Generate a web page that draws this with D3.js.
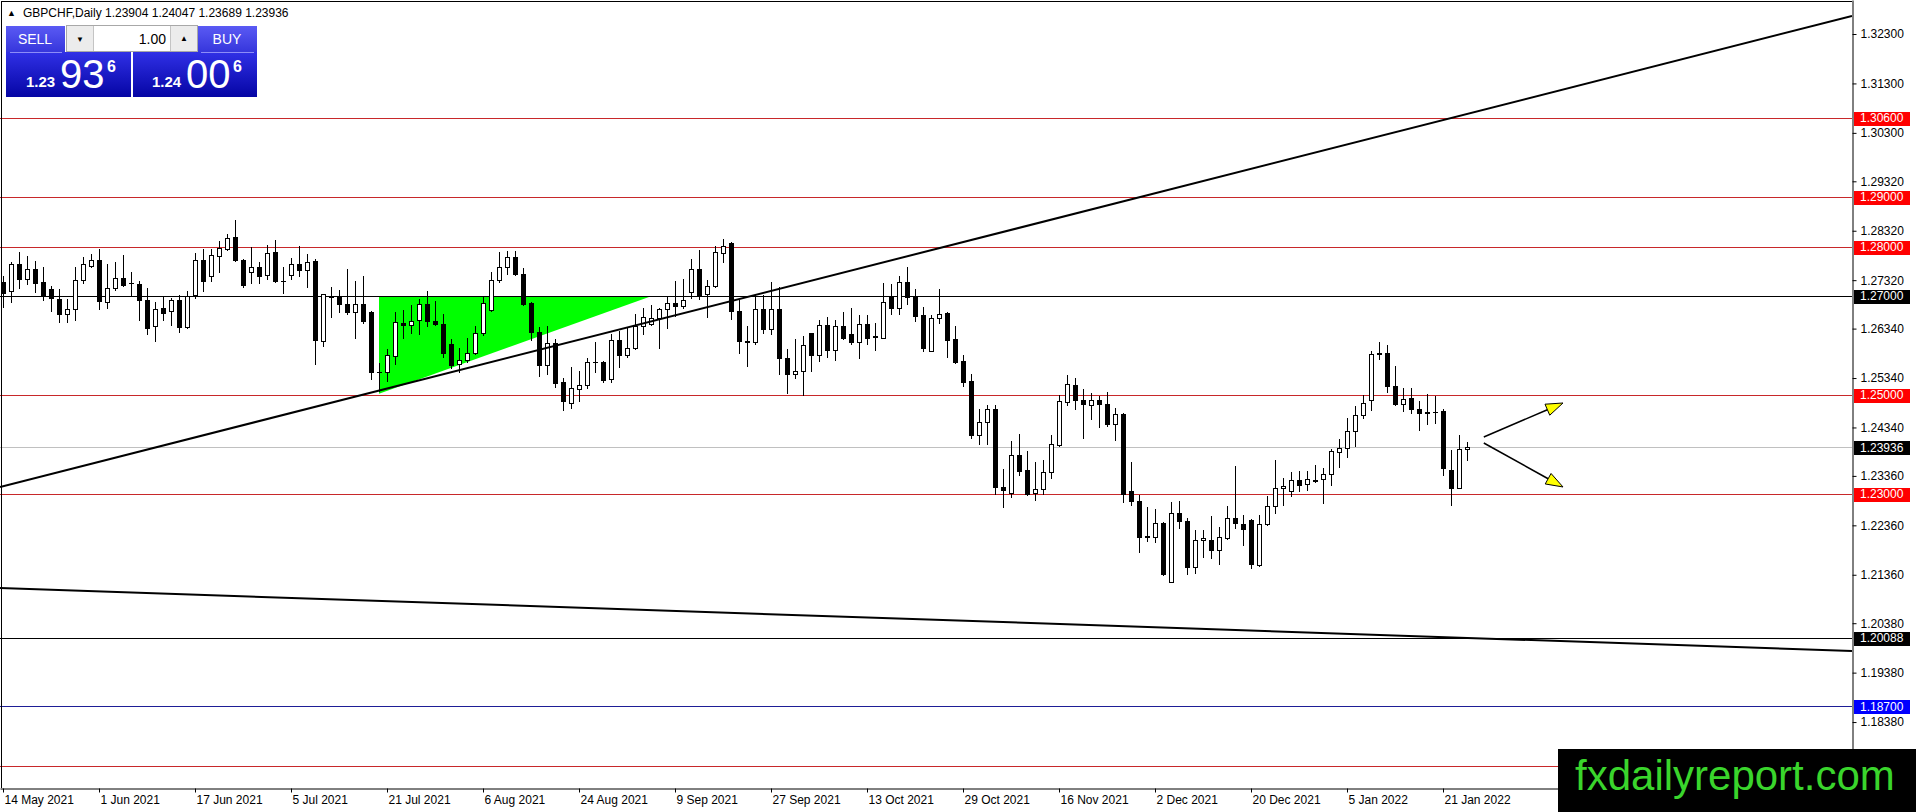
<!DOCTYPE html>
<html>
<head>
<meta charset="utf-8">
<script src="https://cdnjs.cloudflare.com/ajax/libs/d3/7.8.5/d3.min.js"></script>
<style>
  html, body { margin: 0; padding: 0; background: #fff; overflow: hidden; }
  svg { display: block; font-family: "Liberation Sans", Arial, sans-serif; }
</style>
</head>
<body>
<div id="chart"></div>
<script>
// GBPCHF daily candles with MT4-style levels, trendlines and trade panel
const symbolTitle = "GBPCHF,Daily";
const lastBar = [1.23904, 1.24047, 1.23689, 1.23936];
const bidPrice = 1.23936;
const sellQuote = ["1.23", "93", "6"];
const buyQuote = ["1.24", "00", "6"];
const lotSize = "1.00";
const siteName = "fxdailyreport.com";

// one bar per trading day, 14 May 2021 .. 26 Jan 2022
const opens = [
  1.2728, 1.2711, 1.2764, 1.2734, 1.2755, 1.2728, 1.2714, 1.2694, 1.2663, 1.2674,
  1.2732, 1.2761, 1.2772, 1.2688, 1.2716, 1.2737, 1.2727, 1.2724, 1.2692, 1.2639,
  1.2676, 1.2670, 1.2692, 1.2638, 1.2701, 1.2773, 1.2741, 1.2781, 1.2795, 1.2820,
  1.2773, 1.2748, 1.2759, 1.2743, 1.2789, 1.2731, 1.2743, 1.2765, 1.2753, 1.2770,
  1.2609, 1.2699, 1.2699, 1.2684, 1.2667, 1.2684, 1.2668, 1.2547, 1.2547, 1.2579,
  1.2645, 1.2641, 1.2651, 1.2684, 1.2650, 1.2643, 1.2603, 1.2562, 1.2570, 1.2584,
  1.2626, 1.2672, 1.2732, 1.2759, 1.2778, 1.2745, 1.2686, 1.2628, 1.2560, 1.2605,
  1.2526, 1.2483, 1.2512, 1.2520, 1.2567, 1.2567, 1.2533, 1.2610, 1.2581, 1.2594,
  1.2640, 1.2644, 1.2655, 1.2674, 1.2686, 1.2680, 1.2709, 1.2754, 1.2703, 1.2720,
  1.2786, 1.2808, 1.2670, 1.2608, 1.2606, 1.2674, 1.2633, 1.2674, 1.2575, 1.2542,
  1.2548, 1.2625, 1.2581, 1.2641, 1.2590, 1.2640, 1.2623, 1.2606, 1.2643, 1.2619,
  1.2616, 1.2699, 1.2676, 1.2729, 1.2699, 1.2662, 1.2589, 1.2655, 1.2666, 1.2612,
  1.2569, 1.2527, 1.2419, 1.2445, 1.2472, 1.2314, 1.2301, 1.2379, 1.2347, 1.2301,
  1.2310, 1.2344, 1.2399, 1.2486, 1.2520, 1.2490, 1.2480, 1.2490, 1.2482, 1.2442,
  1.2461, 1.2305, 1.2286, 1.2213, 1.2212, 1.2241, 1.2122, 1.2261, 1.2244, 1.2151,
  1.2207, 1.2207, 1.2187, 1.2211, 1.2251, 1.2239, 1.2246, 1.2155, 1.2238, 1.2275,
  1.2311, 1.2305, 1.2327, 1.2319, 1.2327, 1.2329, 1.2339, 1.2385, 1.2392, 1.2427,
  1.2460, 1.2489, 1.2585, 1.2585, 1.2518, 1.2481, 1.2493, 1.2471, 1.2465, 1.2466,
  1.2468, 1.2347, 1.2312, 1.23904
];
const highs = [
  1.2741, 1.2768, 1.2789, 1.2780, 1.2770, 1.2759, 1.2721, 1.2714, 1.2694, 1.2759,
  1.2778, 1.2784, 1.2795, 1.2764, 1.2768, 1.2782, 1.2749, 1.2730, 1.2716, 1.2687,
  1.2699, 1.2696, 1.2701, 1.2711, 1.2787, 1.2795, 1.2795, 1.2812, 1.2826, 1.2854,
  1.2775, 1.2799, 1.2768, 1.2804, 1.2814, 1.2759, 1.2776, 1.2802, 1.2785, 1.2775,
  1.2704, 1.2719, 1.2712, 1.2755, 1.2730, 1.2741, 1.2669, 1.2565, 1.2593, 1.2667,
  1.2672, 1.2682, 1.2694, 1.2711, 1.2689, 1.2663, 1.2613, 1.2595, 1.2616, 1.2640,
  1.2699, 1.2748, 1.2788, 1.2791, 1.2791, 1.2756, 1.2687, 1.2637, 1.2640, 1.2613,
  1.2535, 1.2556, 1.2549, 1.2574, 1.2606, 1.2569, 1.2623, 1.2630, 1.2637, 1.2664,
  1.2676, 1.2681, 1.2676, 1.2700, 1.2730, 1.2734, 1.2775, 1.2793, 1.2732, 1.2802,
  1.2815, 1.2810, 1.2691, 1.2639, 1.2702, 1.2702, 1.2729, 1.2718, 1.2593, 1.2612,
  1.2620, 1.2626, 1.2652, 1.2658, 1.2652, 1.2667, 1.2675, 1.2662, 1.2662, 1.2645,
  1.2726, 1.2724, 1.2740, 1.2759, 1.2714, 1.2677, 1.2662, 1.2714, 1.2668, 1.2639,
  1.2581, 1.2542, 1.2472, 1.2480, 1.2480, 1.2349, 1.2406, 1.2421, 1.2386, 1.2365,
  1.2369, 1.2418, 1.2499, 1.2540, 1.2535, 1.2512, 1.2504, 1.2497, 1.2505, 1.2474,
  1.2463, 1.2365, 1.2297, 1.2274, 1.2270, 1.2243, 1.2283, 1.2286, 1.2251, 1.2227,
  1.2227, 1.2254, 1.2232, 1.2275, 1.2356, 1.2257, 1.2248, 1.2257, 1.2295, 1.2368,
  1.2332, 1.2343, 1.2346, 1.2345, 1.2359, 1.2353, 1.2390, 1.2410, 1.2453, 1.2478,
  1.2500, 1.2589, 1.2606, 1.2600, 1.2559, 1.2514, 1.2514, 1.2487, 1.2501, 1.2498,
  1.2471, 1.2388, 1.2419, 1.24047
];
const lows = [
  1.2677, 1.2687, 1.2716, 1.2724, 1.2709, 1.2692, 1.2669, 1.2647, 1.2647, 1.2651,
  1.2726, 1.2759, 1.2673, 1.2676, 1.2712, 1.2721, 1.2701, 1.2651, 1.2624, 1.2608,
  1.2651, 1.2642, 1.2628, 1.2636, 1.2696, 1.2711, 1.2730, 1.2748, 1.2794, 1.2770,
  1.2719, 1.2726, 1.2726, 1.2734, 1.2728, 1.2707, 1.2734, 1.2741, 1.2719, 1.2563,
  1.2599, 1.2658, 1.2667, 1.2663, 1.2616, 1.2645, 1.2532, 1.2508, 1.2528, 1.2562,
  1.2614, 1.2626, 1.2624, 1.2640, 1.2642, 1.2577, 1.2555, 1.2547, 1.2567, 1.2582,
  1.2622, 1.2670, 1.2728, 1.2745, 1.2742, 1.2682, 1.2610, 1.2539, 1.2542, 1.2515,
  1.2469, 1.2474, 1.2488, 1.2513, 1.2547, 1.2526, 1.2526, 1.2556, 1.2576, 1.2593,
  1.2623, 1.2642, 1.2594, 1.2635, 1.2659, 1.2676, 1.2695, 1.2693, 1.2657, 1.2718,
  1.2768, 1.2654, 1.2585, 1.2558, 1.2602, 1.2625, 1.2623, 1.2542, 1.2504, 1.2534,
  1.2500, 1.2549, 1.2569, 1.2576, 1.2570, 1.2613, 1.2602, 1.2575, 1.2602, 1.2590,
  1.2614, 1.2663, 1.2663, 1.2683, 1.2650, 1.2588, 1.2588, 1.2645, 1.2576, 1.2565,
  1.2518, 1.2412, 1.2401, 1.2401, 1.2299, 1.2274, 1.2293, 1.2338, 1.2298, 1.2288,
  1.2300, 1.2332, 1.2396, 1.2480, 1.2472, 1.2412, 1.2451, 1.2434, 1.2436, 1.2409,
  1.2284, 1.2278, 1.2182, 1.2205, 1.2202, 1.2135, 1.2121, 1.2230, 1.2137, 1.2139,
  1.2171, 1.2170, 1.2158, 1.2209, 1.2230, 1.2196, 1.2149, 1.2154, 1.2236, 1.2261,
  1.2278, 1.2295, 1.2305, 1.2307, 1.2324, 1.2282, 1.2318, 1.2354, 1.2374, 1.2397,
  1.2453, 1.2470, 1.2572, 1.2505, 1.2480, 1.2468, 1.2464, 1.2428, 1.2442, 1.2444,
  1.2338, 1.2277, 1.2311, 1.23689
];
const closes = [
  1.2707, 1.2764, 1.2734, 1.2755, 1.2726, 1.2701, 1.2696, 1.2663, 1.2674, 1.2732,
  1.2764, 1.2772, 1.2689, 1.2716, 1.2737, 1.2722, 1.2727, 1.2692, 1.2636, 1.2674,
  1.2666, 1.2691, 1.2638, 1.2699, 1.2772, 1.2730, 1.2782, 1.2797, 1.2818, 1.2773,
  1.2722, 1.2759, 1.2741, 1.2787, 1.2730, 1.2730, 1.2765, 1.2753, 1.2768, 1.2611,
  1.2704, 1.2698, 1.2684, 1.2667, 1.2684, 1.2650, 1.2547, 1.2546, 1.2580, 1.2647,
  1.2641, 1.2649, 1.2684, 1.2649, 1.2643, 1.2584, 1.2561, 1.2570, 1.2584, 1.2626,
  1.2685, 1.2732, 1.2759, 1.2778, 1.2745, 1.2683, 1.2627, 1.2560, 1.2605, 1.2524,
  1.2488, 1.2513, 1.2520, 1.2567, 1.2566, 1.2530, 1.2610, 1.2581, 1.2594, 1.2640,
  1.2657, 1.2655, 1.2674, 1.2686, 1.2680, 1.2691, 1.2754, 1.2701, 1.2720, 1.2788,
  1.2802, 1.2670, 1.2608, 1.2607, 1.2674, 1.2633, 1.2674, 1.2574, 1.2542, 1.2548,
  1.2600, 1.2581, 1.2641, 1.2590, 1.2640, 1.2616, 1.2606, 1.2643, 1.2616, 1.2618,
  1.2687, 1.2676, 1.2729, 1.2697, 1.2660, 1.2594, 1.2656, 1.2664, 1.2610, 1.2567,
  1.2526, 1.2419, 1.2445, 1.2472, 1.2313, 1.2307, 1.2379, 1.2345, 1.2300, 1.2310,
  1.2343, 1.2401, 1.2487, 1.2522, 1.2490, 1.2481, 1.2490, 1.2482, 1.2440, 1.2462,
  1.2300, 1.2286, 1.2213, 1.2214, 1.2241, 1.2137, 1.2261, 1.2244, 1.2151, 1.2207,
  1.2210, 1.2187, 1.2212, 1.2251, 1.2241, 1.2228, 1.2157, 1.2238, 1.2275, 1.2311,
  1.2316, 1.2327, 1.2318, 1.2329, 1.2326, 1.2339, 1.2387, 1.2392, 1.2427, 1.2460,
  1.2484, 1.2583, 1.2583, 1.2518, 1.2481, 1.2491, 1.2471, 1.2464, 1.2464, 1.2465,
  1.2351, 1.2312, 1.2390, 1.23936
];

const dateTickBars = [0, 12, 24, 36, 48, 60, 72, 84, 96, 108, 120, 132, 144, 156, 168, 180];
const dateTickLabels = [
  "14 May 2021", "1 Jun 2021", "17 Jun 2021", "5 Jul 2021", "21 Jul 2021", "6 Aug 2021",
  "24 Aug 2021", "9 Sep 2021", "27 Sep 2021", "13 Oct 2021", "29 Oct 2021", "16 Nov 2021",
  "2 Dec 2021", "20 Dec 2021", "5 Jan 2022", "21 Jan 2022"
];
const priceTicks = [1.32300, 1.31300, 1.30300, 1.29320, 1.28320, 1.27320, 1.26340, 1.25340,
  1.24340, 1.23360, 1.22360, 1.21360, 1.20380, 1.19380, 1.18380];

const redLevels = [1.30600, 1.29000, 1.28000, 1.25000, 1.23000, 1.17500];
const blackLevels = [1.27000, 1.20088];
const blueLevels = [1.18700];

// trendlines: [bar, price] pairs
const trendLines = [
  [[-0.375, 1.23136], [231.125, 1.32664]],
  [[-0.375, 1.21092], [231.125, 1.19818]]
];
const triangleBars = [47, 47, 81.1];
const trianglePrices = [1.2700, 1.2502, 1.2700];
const arrows = [
  [[185.1, 1.24147], [195, 1.24835]],
  [[185.1, 1.24026], [195, 1.23136]]
];

const W = 1916, H = 812;
const plotW = 1852, plotH = 788;
const barStep = 8;
const banner = { x: 1558, y: 749 };

const svg = d3.select("#chart")
    .append("svg")
    .attr("width", W)
    .attr("height", H);

svg.append("rect").attr("width", W).attr("height", H).attr("fill", "#fff");

const defs = svg.append("defs");
defs.append("clipPath").attr("id", "plotClip")
    .append("rect").attr("x", 0).attr("y", 0).attr("width", plotW).attr("height", plotH);

function gradient(id, c0, c1) {
    const g = defs.append("linearGradient").attr("id", id)
        .attr("x1", 0).attr("y1", 0).attr("x2", 0).attr("y2", 1);
    g.append("stop").attr("offset", "0%").attr("stop-color", c0);
    g.append("stop").attr("offset", "100%").attr("stop-color", c1);
}
gradient("btnTop", "#5a5af4", "#3636dc");
gradient("btnBot", "#3030e6", "#0505a4");

const x = d3.scaleLinear()
    .domain([-0.375, -0.375 + plotW / barStep])
    .range([0, plotW]);
const y = d3.scaleLinear()
    .domain([1.17046, 1.32988])
    .range([plotH, 0]);

const plot = svg.append("g").attr("clip-path", "url(#plotClip)");

// green triangle (background object)
plot.append("polygon")
    .attr("points", triangleBars.map((b, k) => [x(b), y(trianglePrices[k])].join(",")).join(" "))
    .attr("fill", "#00ff00");

// horizontal levels
function hline(v, color) {
    const yy = Math.round(y(v)) + 0.5;
    plot.append("line")
        .attr("x1", 0).attr("x2", plotW)
        .attr("y1", yy).attr("y2", yy)
        .attr("stroke", color).attr("stroke-width", 1)
        .attr("shape-rendering", "crispEdges");
}
hline(bidPrice, "#c0c0c0");
redLevels.forEach(v => hline(v, "#c8282a"));
blackLevels.forEach(v => hline(v, "#000"));
blueLevels.forEach(v => hline(v, "#1e1e96"));

// candles
const bars = opens.map((o, i) => ({ i, o, h: highs[i], l: lows[i], c: closes[i] }));
const candle = plot.append("g").attr("shape-rendering", "crispEdges");

bars.forEach(d => {
    const cx = Math.round(x(d.i));
    const top = Math.round(y(Math.max(d.o, d.c)));
    const bot = Math.round(y(Math.min(d.o, d.c)));
    const bh = Math.max(1, bot - top + 1);
    candle.append("rect")
        .attr("x", cx).attr("width", 1)
        .attr("y", Math.round(y(d.h))).attr("height", Math.max(1, Math.round(y(d.l)) - Math.round(y(d.h)) + 1))
        .attr("fill", "#000");
    candle.append("rect")
        .attr("x", cx - 2).attr("width", 5)
        .attr("y", top).attr("height", bh)
        .attr("fill", "#000");
    if (d.c > d.o && bh > 2) {
        candle.append("rect")
            .attr("x", cx - 1).attr("width", 3)
            .attr("y", top + 1).attr("height", bh - 2)
            .attr("fill", "#fff");
    }
});

// trendlines
trendLines.forEach(([p0, p1]) => {
    plot.append("line")
        .attr("x1", x(p0[0])).attr("y1", y(p0[1]))
        .attr("x2", x(p1[0])).attr("y2", y(p1[1]))
        .attr("stroke", "#000").attr("stroke-width", 2);
});

// arrows
arrows.forEach(([p0, p1]) => {
    const x0 = x(p0[0]), y0 = y(p0[1]), x1 = x(p1[0]), y1 = y(p1[1]);
    const a = Math.atan2(y1 - y0, x1 - x0);
    const len = 17, half = 6;
    const bx = x1 - len * Math.cos(a), by = y1 - len * Math.sin(a);
    plot.append("line")
        .attr("x1", x0).attr("y1", y0).attr("x2", bx).attr("y2", by)
        .attr("stroke", "#000").attr("stroke-width", 1.5);
    const pts = [
        [x1, y1],
        [bx - half * Math.sin(a), by + half * Math.cos(a)],
        [bx + half * Math.sin(a), by - half * Math.cos(a)]
    ];
    plot.append("polygon")
        .attr("points", pts.map(p => p.join(",")).join(" "))
        .attr("fill", "#ffff00").attr("stroke", "#000").attr("stroke-width", 1);
});

// frame
svg.append("line").attr("x1", 1.5).attr("x2", 1.5).attr("y1", 1).attr("y2", plotH)
    .attr("stroke", "#000");
svg.append("line").attr("x1", 1).attr("x2", plotW).attr("y1", 1.5).attr("y2", 1.5)
    .attr("stroke", "#000");

// price axis
const yAxisG = svg.append("g")
    .attr("transform", `translate(${plotW + 0.5},0)`)
    .call(d3.axisRight(y).tickValues(priceTicks).tickFormat(d3.format(".5f"))
        .tickSize(4).tickSizeOuter(0).tickPadding(4));
yAxisG.attr("font-family", null).attr("font-size", null);
yAxisG.selectAll("text").attr("font-size", "12px").attr("fill", "#000");
yAxisG.selectAll("line, path").attr("stroke", "#000");

// date axis
const xAxisG = svg.append("g")
    .attr("transform", `translate(0,${plotH + 0.5})`)
    .call(d3.axisBottom(x).tickValues(dateTickBars).tickFormat((d, k) => dateTickLabels[k])
        .tickSize(4).tickSizeOuter(0));
xAxisG.attr("font-family", null).attr("font-size", null);
xAxisG.selectAll("text").attr("font-size", "12px").attr("fill", "#000")
    .attr("text-anchor", "start").attr("dx", 1);
xAxisG.selectAll("line, path").attr("stroke", "#000");

// level labels on the price axis (the one under the banner stays hidden)
function levelLabel(v, bg) {
    const yy = y(v);
    if (yy > banner.y) return;
    svg.append("rect")
        .attr("x", plotW + 2).attr("y", Math.round(yy) - 6)
        .attr("width", 56).attr("height", 14)
        .attr("fill", bg);
    svg.append("text")
        .attr("x", plotW + 8).attr("y", yy).attr("dy", "0.36em")
        .attr("font-size", "12px").attr("fill", "#fff")
        .text(d3.format(".5f")(v));
}
redLevels.forEach(v => levelLabel(v, "#ff0000"));
blackLevels.forEach(v => levelLabel(v, "#000"));
blueLevels.forEach(v => levelLabel(v, "#0000ff"));
levelLabel(bidPrice, "#000");

// header
svg.append("text").attr("x", 7).attr("y", 16).attr("font-size", "9px").text("\u25B2");
svg.append("text").attr("x", 23).attr("y", 17).attr("font-size", "12px").attr("fill", "#000")
    .text(`${symbolTitle}  ${lastBar.map(d3.format(".5f")).join(" ")}`);

// one-click trade panel
const panel = svg.append("g").attr("shape-rendering", "crispEdges");
panel.append("rect").attr("x", 6).attr("y", 26).attr("width", 59).attr("height", 26).attr("fill", "url(#btnTop)");
panel.append("rect").attr("x", 198).attr("y", 26).attr("width", 59).attr("height", 26).attr("fill", "url(#btnTop)");
panel.append("rect").attr("x", 6).attr("y", 52).attr("width", 125).attr("height", 45).attr("fill", "url(#btnBot)");
panel.append("rect").attr("x", 133).attr("y", 52).attr("width", 124).attr("height", 45).attr("fill", "url(#btnBot)");
panel.append("line").attr("x1", 10).attr("x2", 62).attr("y1", 52.5).attr("y2", 52.5).attr("stroke", "#8c8cf8");
panel.append("line").attr("x1", 201).attr("x2", 254).attr("y1", 52.5).attr("y2", 52.5).attr("stroke", "#8c8cf8");

panel.append("rect").attr("x", 66.5).attr("y", 25.5).attr("width", 131).attr("height", 26)
    .attr("fill", "#fff").attr("stroke", "#a8a8a8");
panel.append("rect").attr("x", 67).attr("y", 26).attr("width", 26).attr("height", 25).attr("fill", "#ececec");
panel.append("rect").attr("x", 171).attr("y", 26).attr("width", 26).attr("height", 25).attr("fill", "#ececec");
panel.append("line").attr("x1", 93.5).attr("x2", 93.5).attr("y1", 26).attr("y2", 51).attr("stroke", "#c4c4c4");
panel.append("line").attr("x1", 170.5).attr("x2", 170.5).attr("y1", 26).attr("y2", 51).attr("stroke", "#c4c4c4");

svg.append("text").attr("x", 80).attr("y", 42).attr("text-anchor", "middle").attr("font-size", "8px").text("\u25BC");
svg.append("text").attr("x", 184).attr("y", 41).attr("text-anchor", "middle").attr("font-size", "8px").text("\u25B2");
svg.append("text").attr("x", 166).attr("y", 44).attr("text-anchor", "end").attr("font-size", "14px").attr("fill", "#000").text(lotSize);

svg.append("text").attr("x", 35).attr("y", 44).attr("text-anchor", "middle").attr("font-size", "14px").attr("fill", "#fff").text("SELL");
svg.append("text").attr("x", 227).attr("y", 44).attr("text-anchor", "middle").attr("font-size", "14px").attr("fill", "#fff").text("BUY");

function quote(q, x0) {
    svg.append("text").attr("x", x0).attr("y", 87).attr("font-size", "15px").attr("font-weight", "bold")
        .attr("fill", "#fff").text(q[0]);
    svg.append("text").attr("x", x0 + 34).attr("y", 88).attr("font-size", "40px")
        .attr("fill", "#fff").text(q[1]);
    svg.append("text").attr("x", x0 + 81).attr("y", 72).attr("font-size", "16px").attr("font-weight", "bold")
        .attr("fill", "#fff").text(q[2]);
}
quote(sellQuote, 26);
quote(buyQuote, 152);

// watermark
svg.append("rect").attr("x", banner.x).attr("y", banner.y)
    .attr("width", W - banner.x).attr("height", H - banner.y).attr("fill", "#000");
svg.append("text").attr("x", 1575).attr("y", 790).attr("font-size", "42px").attr("fill", "#3ad52c").text(siteName);
</script>
</body>
</html>
